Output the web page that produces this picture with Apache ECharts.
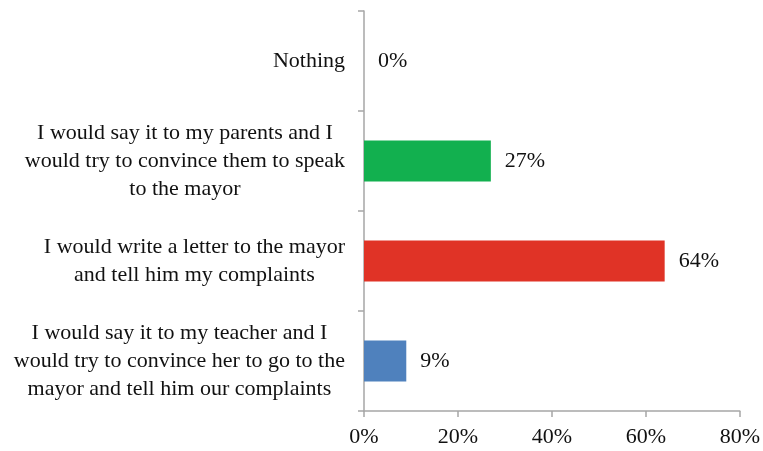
<!DOCTYPE html>
<html>
<head>
<meta charset="utf-8">
<script src="https://cdn.jsdelivr.net/npm/echarts@6/dist/echarts.min.js"></script>
<style>
  html, body { margin: 0; padding: 0; background: #fff; }
  #chart { width: 763px; height: 451px; }
</style>
</head>
<body>
<div id="chart"></div>
<script>
// Answers, top to bottom
const categories = [
  'Nothing',
  'I would say it to my parents and I\nwould try to convince them to speak\nto the mayor',
  'I would write a letter to the mayor\nand tell him my complaints',
  'I would say it to my teacher and I\nwould try to convince her to go to the\nmayor and tell him our complaints'
];
const shares = [0, 27, 64, 9];
const barColors = ['#4f81bd', '#12b04f', '#e03326', '#4f81bd'];
const xTicks = [0, 20, 40, 60, 80];

const serif = '"Liberation Serif", "DejaVu Serif", serif';
const axisGrey = '#a6a6a6';

const chart = echarts.init(document.getElementById('chart'));
chart.setOption({
  animation: false,
  grid: { left: 364, right: 23, top: 11, bottom: 40 },
  xAxis: {
    type: 'value',
    min: xTicks[0],
    max: xTicks[xTicks.length - 1],
    interval: xTicks[1] - xTicks[0],
    splitLine: { show: false },
    axisLine: { show: true, lineStyle: { color: axisGrey, width: 1.5 } },
    axisTick: { show: true, length: 6, lineStyle: { color: axisGrey, width: 1.5 } },
    axisLabel: {
      formatter: '{value}%',
      fontFamily: serif,
      fontSize: 22,
      color: '#111',
      margin: 15
    }
  },
  yAxis: {
    type: 'category',
    inverse: true,
    data: categories,
    axisLine: { show: true, lineStyle: { color: axisGrey, width: 1.5 } },
    axisTick: { show: true, length: 6, lineStyle: { color: axisGrey, width: 1.5 } },
    axisLabel: {
      margin: 19,
      align: 'right',
      formatter: v => v.split('\n').map(s => '{c|' + s + '}').join('\n'),
      rich: {
        c: {
          align: 'center',
          fontFamily: serif,
          fontSize: 22,
          lineHeight: 28,
          color: '#111'
        }
      }
    }
  },
  series: [{
    type: 'bar',
    data: shares.map((v, i) => ({ value: v, itemStyle: { color: barColors[i] } })),
    barWidth: 41,
    label: {
      show: true,
      position: 'right',
      distance: 14,
      formatter: '{c}%',
      fontFamily: serif,
      fontSize: 22,
      color: '#111'
    }
  }]
});
</script>
</body>
</html>
